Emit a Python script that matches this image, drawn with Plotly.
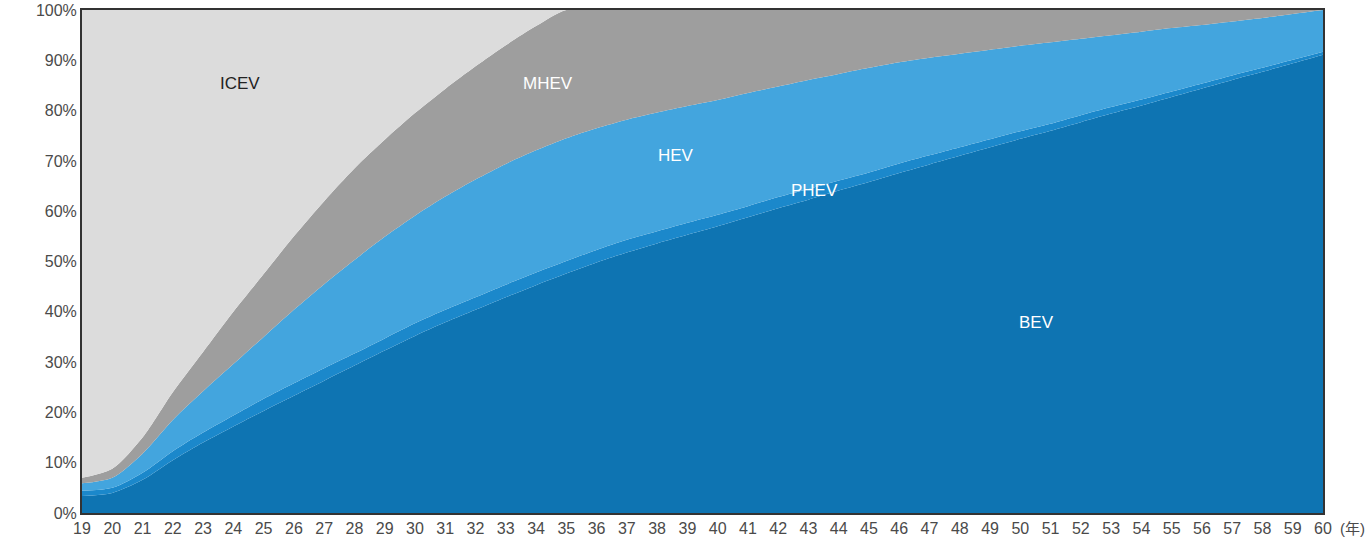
import plotly.graph_objects as go

# Fiscal years (20XX), shown as two-digit labels
years = list(range(19, 61))

# Cumulative share boundaries (%), bottom to top
bev_top = [3.4, 4.0, 6.6, 10.5, 14.0, 17.2, 20.3, 23.3, 26.3, 29.3,
           32.3, 35.2, 37.9, 40.4, 42.9, 45.3, 47.6, 49.8, 51.8, 53.6,
           55.3, 57.0, 58.8, 60.6, 62.3, 64.1, 65.8, 67.6, 69.3, 71.0,
           72.7, 74.4, 76.0, 77.7, 79.4, 81.0, 82.7, 84.4, 86.1, 87.7,
           89.4, 91.1]
phev_top = [4.4, 5.0, 8.0, 12.3, 16.0, 19.4, 22.7, 25.8, 28.8, 31.7,
            34.7, 37.7, 40.4, 42.9, 45.4, 47.8, 50.1, 52.3, 54.3, 56.0,
            57.7, 59.3, 61.0, 62.8, 64.4, 66.1, 67.7, 69.5, 71.1, 72.7,
            74.3, 75.9, 77.4, 79.1, 80.7, 82.2, 83.8, 85.4, 87.0, 88.5,
            90.1, 91.7]
hev_top = [5.9, 7.0, 11.8, 18.5, 24.2, 29.6, 35.0, 40.4, 45.5, 50.3,
           54.9, 59.1, 62.9, 66.3, 69.4, 72.1, 74.5, 76.5, 78.2, 79.6,
           80.9, 82.1, 83.5, 84.8, 86.1, 87.3, 88.5, 89.6, 90.5, 91.3,
           92.1, 92.9, 93.6, 94.3, 95.0, 95.7, 96.4, 97.0, 97.7, 98.4,
           99.2, 100.0]
mhev_top = [7.0, 8.8, 15.0, 24.0, 32.0, 40.0, 47.5, 55.0, 62.0, 68.5,
            74.2, 79.5, 84.3, 88.8, 93.0, 96.8, 100.0, 100.0, 100.0, 100.0,
            100.0, 100.0, 100.0, 100.0, 100.0, 100.0, 100.0, 100.0, 100.0, 100.0,
            100.0, 100.0, 100.0, 100.0, 100.0, 100.0, 100.0, 100.0, 100.0, 100.0,
            100.0, 100.0]
total = [100.0] * len(years)

segments = ["BEV", "PHEV", "HEV", "MHEV", "ICEV"]
colors = ["#0E74B2", "#1B88CB", "#43A5DE", "#9E9E9E", "#DCDCDC"]

bounds = [[0.0] * len(years), bev_top, phev_top, hev_top, mhev_top, total]
shares = [[round(hi - lo, 2) for lo, hi in zip(bounds[i], bounds[i + 1])]
          for i in range(len(segments))]

fig = go.Figure()
for name, vals, col in zip(segments, shares, colors):
    fig.add_trace(go.Scatter(
        x=years, y=vals, name=name, mode="lines",
        stackgroup="share",
        line=dict(width=0, color=col, shape="spline", smoothing=0.8),
        fillcolor=col, hoverinfo="skip",
    ))

label_font = "Liberation Sans, Arial, sans-serif"
labels = [
    ("ICEV", 24.22, 85.3, "#222222"),
    ("MHEV", 34.4, 85.3, "white"),
    ("HEV", 38.62, 71.0, "white"),
    ("PHEV", 43.2, 64.2, "white"),
    ("BEV", 50.55, 37.8, "white"),
]
for text, x, y, col in labels:
    fig.add_annotation(x=x, y=y, text=text, showarrow=False,
                       font=dict(size=17, color=col, family=label_font))

fig.add_annotation(xref="paper", yref="paper", x=1.012, y=-0.03,
                   xanchor="left", yanchor="middle", text="(年)",
                   showarrow=False,
                   font=dict(size=15, color="#4a4a4a",
                             family="Liberation Sans, Noto Sans CJK JP"))

axis_font = dict(size=16, color="#4a4a4a", family=label_font)
fig.update_layout(
    width=1367, height=550,
    margin=dict(l=82, r=44, t=10, b=37, autoexpand=False),
    paper_bgcolor="white", plot_bgcolor="white",
    showlegend=False,
    xaxis=dict(range=[19, 60], tickmode="array", tickvals=years,
               ticktext=[str(y) for y in years], showgrid=False,
               zeroline=False, showline=True, linecolor="#333333",
               linewidth=2, mirror=True, ticks="", tickfont=axis_font,
               automargin=False),
    yaxis=dict(range=[0, 100], tickmode="array",
               tickvals=list(range(0, 101, 10)),
               ticktext=[f"{v}%" for v in range(0, 101, 10)],
               showgrid=False, zeroline=False, showline=True,
               linecolor="#333333", linewidth=2, mirror=True, ticks="",
               tickfont=axis_font, automargin=False),
)

fig.write_html("out.html")
